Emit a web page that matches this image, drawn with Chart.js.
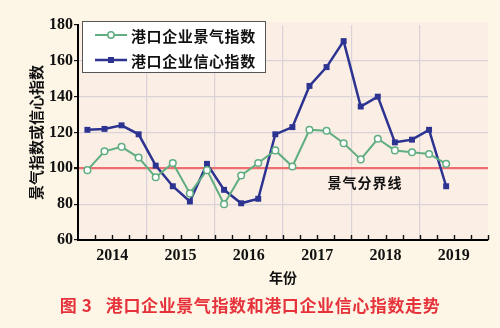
<!DOCTYPE html>
<html>
<head>
<meta charset="utf-8">
<script src="https://cdn.jsdelivr.net/npm/chart.js@4.4.1/dist/chart.umd.min.js"></script>
<style>
  html, body { margin: 0; padding: 0; background: #fdf6e7; }
  #wrap { position: relative; width: 500px; height: 328px; }
  #caption {
    position: absolute; left: 0; top: 292px; width: 500px; text-align: center;
    font-family: "Noto Sans CJK SC", sans-serif; font-weight: bold; font-size: 17px;
    letter-spacing: 0.6px; color: #e5323b; white-space: pre;
  }
</style>
</head>
<body>
<div id="wrap">
  <canvas id="chart"></canvas>
  <div id="caption">图 3   港口企业景气指数和港口企业信心指数走势</div>
</div>
<script>
// quarterly index values, 2014Q1 - 2019Q2
const quarters = ['2014Q1', '2014Q2', '2014Q3', '2014Q4', '2015Q1', '2015Q2', '2015Q3', '2015Q4',
    '2016Q1', '2016Q2', '2016Q3', '2016Q4', '2017Q1', '2017Q2', '2017Q3', '2017Q4',
    '2018Q1', '2018Q2', '2018Q3', '2018Q4', '2019Q1', '2019Q2'];
const yearLabels = ['2014', '2015', '2016', '2017', '2018', '2019'];
const prosperityIndex = [99, 109.5, 112, 106, 95, 103, 86, 99, 80, 96, 103, 110,
    101, 121.5, 121, 114, 105, 116.5, 110, 109, 108, 102.5];
const confidenceIndex = [121.5, 122, 124, 119, 101.5, 90, 81.5, 102.5, 88, 80.5, 83, 119,
    123, 146, 156.5, 171, 134.5, 140, 114.5, 116, 121.5, 90];
const seriesNames = ['港口企业景气指数', '港口企业信心指数'];
const boundaryValue = 100;

const GREEN = '#5fad80';
const BLUE = '#2c3391';
const CJK = '"Noto Sans CJK SC", sans-serif';
const SERIF = '"Liberation Serif", "Times New Roman", serif';

const toPoints = vals => quarters.map((q, i) => ({ x: i + 0.55, y: vals[i] }));

const decor = {
    id: 'decor',
    beforeDraw(chart) {
        const { ctx, chartArea: a } = chart;
        ctx.save();
        ctx.fillStyle = '#fbeee4';
        ctx.fillRect(a.left, a.top - 3, a.right - a.left, a.bottom - a.top + 3);
        ctx.restore();
    },
    beforeDatasetsDraw(chart) {
        // small inward tick marks on the year axis, one per quarter
        const { ctx, chartArea: a, scales } = chart;
        ctx.save();
        ctx.strokeStyle = '#111';
        ctx.lineWidth = 1.4;
        ctx.beginPath();
        for (let v = 1; v <= quarters.length + 2; v++) {
            const px = Math.round(scales.x.getPixelForValue(v)) + 0.5;
            ctx.moveTo(px, a.bottom - 5);
            ctx.lineTo(px, a.bottom);
        }
        ctx.stroke();
        // label for the boundary line
        ctx.fillStyle = '#111';
        ctx.font = 'bold 14px ' + CJK;
        ctx.letterSpacing = '1px';
        ctx.textBaseline = 'middle';
        ctx.fillText('景气分界线', scales.x.getPixelForValue(14.6), scales.y.getPixelForValue(92));
        ctx.restore();
    },
    afterDraw(chart) {
        // boxed legend, top left of the plot
        const { ctx } = chart;
        ctx.save();
        ctx.fillStyle = '#ffffff';
        ctx.strokeStyle = '#555';
        ctx.lineWidth = 1;
        ctx.fillRect(82, 21, 183, 51);
        ctx.strokeRect(82.5, 21.5, 183, 51);
        const rows = [35, 60];
        chart.data.datasets.forEach((ds, i) => {
            const y = rows[i];
            ctx.strokeStyle = ds.borderColor;
            ctx.lineWidth = ds.borderWidth;
            ctx.beginPath();
            ctx.moveTo(95, y);
            ctx.lineTo(127, y);
            ctx.stroke();
            if (ds.pointStyle === 'rect') {
                ctx.fillStyle = ds.borderColor;
                ctx.fillRect(108, y - 3, 6, 6);
            } else {
                ctx.fillStyle = '#fff';
                ctx.lineWidth = 1.5;
                ctx.beginPath();
                ctx.arc(111, y, 3.2, 0, Math.PI * 2);
                ctx.fill();
                ctx.stroke();
            }
            ctx.fillStyle = '#111';
            ctx.font = 'bold 15px ' + CJK;
            ctx.letterSpacing = '0.6px';
            ctx.textBaseline = 'middle';
            ctx.fillText(ds.label, 131, y + 1);
        });
        ctx.restore();
    }
};

new Chart(document.getElementById('chart'), {
    type: 'line',
    data: {
        datasets: [
            {
                label: seriesNames[0],
                data: toPoints(prosperityIndex),
                borderColor: GREEN,
                backgroundColor: '#ffffff',
                borderWidth: 2,
                pointStyle: 'circle',
                pointRadius: 3.3,
                pointBorderWidth: 1.5,
                pointBackgroundColor: '#ffffff',
                pointBorderColor: GREEN,
                tension: 0
            },
            {
                label: seriesNames[1],
                data: toPoints(confidenceIndex),
                borderColor: BLUE,
                backgroundColor: BLUE,
                borderWidth: 2.5,
                pointStyle: 'rect',
                pointRadius: 4.2,
                pointBorderWidth: 0,
                pointBackgroundColor: BLUE,
                tension: 0
            }
        ]
    },
    options: {
        responsive: true,
        maintainAspectRatio: false,
        animation: false,
        layout: { padding: { left: 0, right: 12, top: 25, bottom: 38 } },
        plugins: {
            legend: { display: false },
            tooltip: { enabled: false }
        },
        scales: {
            x: {
                type: 'linear',
                min: 0,
                max: 24,
                afterFit: s => { s.height = 50; },
                border: { color: '#000', width: 2 },
                grid: {
                    drawTicks: false,
                    lineWidth: 1.2,
                    color: c => (c.tick && c.tick.value % 4 === 0 && c.tick.value > 0 && c.tick.value < 24)
                        ? '#d9d2d8' : 'rgba(0,0,0,0)'
                },
                ticks: {
                    stepSize: 1,
                    autoSkip: false,
                    maxTicksLimit: 30,
                    maxRotation: 0,
                    padding: 6,
                    color: '#111',
                    font: { family: SERIF, size: 16, weight: 'bold' },
                    callback: v => (v % 4 === 2) ? yearLabels[(v - 2) / 4] : ''
                },
                title: {
                    display: true,
                    text: '年份',
                    color: '#111',
                    font: { family: CJK, size: 14, weight: 'bold' },
                    padding: { top: 0, bottom: 4 }
                }
            },
            y: {
                min: 60,
                max: 180,
                afterFit: s => { s.width = 78; },
                border: { color: '#000', width: 2 },
                grid: {
                    tickLength: 4,
                    tickColor: '#111',
                    color: c => c.tick.value === boundaryValue ? '#ee6f72'
                        : (c.tick.value === 180 ? 'rgba(0,0,0,0)' : '#d9d2d8'),
                    lineWidth: c => c.tick.value === boundaryValue ? 2.2 : 1.2
                },
                ticks: {
                    stepSize: 20,
                    padding: 1,
                    color: '#111',
                    font: { family: SERIF, size: 16, weight: 'bold' }
                },
                title: {
                    display: true,
                    text: '景气指数或信心指数',
                    color: '#111',
                    font: { family: CJK, size: 15, weight: 'bold' },
                    padding: { top: 27, bottom: 0 }
                }
            }
        }
    },
    plugins: [decor]
});
</script>
</body>
</html>
